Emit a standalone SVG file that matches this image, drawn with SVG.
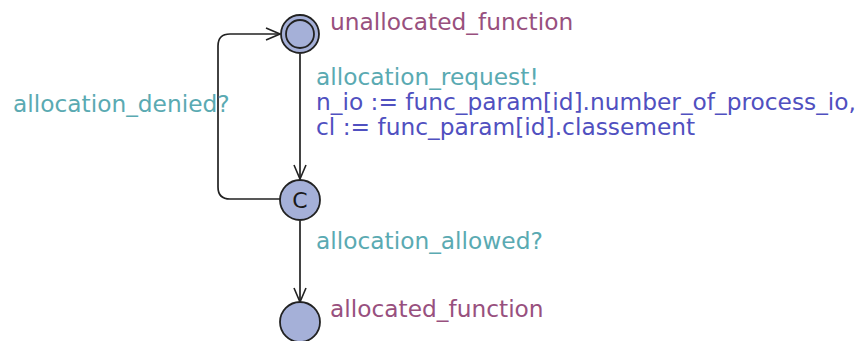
<svg xmlns="http://www.w3.org/2000/svg" width="859" height="341" viewBox="0 0 859 341">
  <defs>
    <marker id="open-arrow" viewBox="0 0 16 14" refX="15" refY="7" markerWidth="16" markerHeight="14" markerUnits="userSpaceOnUse" orient="auto">
      <path d="M1,1 L15,7 L1,13" fill="none" stroke="#222" stroke-width="1.6"/>
    </marker>
  </defs>
  <style>
    text { font-family: "DejaVu Sans", "Liberation Sans", sans-serif; font-size: 23.3px; }
    .loc { fill: #a5b0d8; stroke: #222; stroke-width: 1.8; }
    .name { fill: #98507e; }
    .sync { fill: #5aaab2; }
    .assign { fill: #5050c0; }
    .edge { fill: none; stroke: #222; stroke-width: 1.7; }
  </style>
  <rect width="859" height="341" fill="#ffffff"/>

  <!-- transitions -->
  <g id="edges">
    <path class="edge" d="M300,54 L300,179" marker-end="url(#open-arrow)"/>
    <path class="edge" d="M280,199 L230,199 Q218,199 218,187 L218,46 Q218,34 230,34 L280,34" marker-end="url(#open-arrow)"/>
    <path class="edge" d="M300,221 L300,302" marker-end="url(#open-arrow)"/>
  </g>

  <!-- initial location -->
  <g id="unallocated_function">
    <circle class="loc" cx="300" cy="34" r="19"/>
    <circle class="loc" cx="300" cy="34" r="14"/>
    <text class="name" x="330" y="30">unallocated_function</text>
  </g>

  <!-- committed location -->
  <g id="committed">
    <circle class="loc" cx="300" cy="200" r="20"/>
    <text x="300" y="208" text-anchor="middle" fill="#1a1a1a" style="font-size:22px">C</text>
  </g>

  <!-- final location -->
  <g id="allocated_function">
    <circle class="loc" cx="300" cy="322" r="20"/>
    <text class="name" x="330" y="317">allocated_function</text>
  </g>

  <!-- edge labels -->
  <g id="labels">
    <text class="sync" x="316" y="85">allocation_request!</text>
    <text class="assign" x="316" y="110">n_io := func_param[id].number_of_process_io,</text>
    <text class="assign" x="316" y="135">cl := func_param[id].classement</text>
    <text class="sync" x="13" y="112">allocation_denied?</text>
    <text class="sync" x="316" y="249">allocation_allowed?</text>
  </g>
</svg>
